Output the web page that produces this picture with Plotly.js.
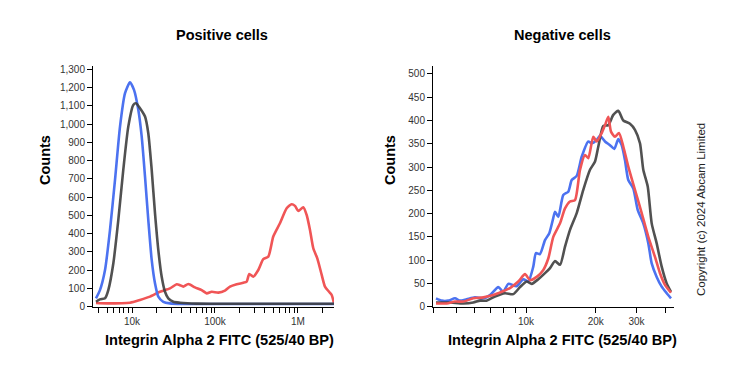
<!DOCTYPE html>
<html><head><meta charset="utf-8">
<script src="https://cdn.plot.ly/plotly-3.0.1.min.js"></script>
<style>html,body{margin:0;padding:0;background:#fff}#chart{width:739px;height:370px}</style>
</head><body><div id="chart"></div>
<script>
// ---- Positive cells (left panel) ----
const posBlueX = [3680,4110,4730,5430,6240,7170,8240,9460,10570,11910,13090,14350,15710,17270,18920,20740,23830,28690,40000,100000,1000000,2714000];
const posBlueY = [46,91,201,420,694,986,1169,1229,1187,1078,931,712,475,256,128,55,27,18,15,15,15,15];
const posBlackX = [3680,4110,4730,5180,5960,6840,7850,9020,10370,11170,12480,14350,15710,17270,18920,20740,22790,24980,27370,31460,37870,60000,300000,2714000];
const posBlackY = [27,40,46,91,238,475,749,986,1105,1114,1087,1041,950,749,512,311,164,82,46,27,22,17,16,16];
const posRedX = [3680,5000,9460,12480,16480,21730,28690,34590,37870,41500,47660,57390,69170,79460,91270,109600,131900,151600,182400,219300,240900,258900,289200,332400,381900,438800,503900,606500,730500,839100,919900,1009000,1159000,1273000,1395000,1529000,1709000,1931000,2115000,2363000,2548000,2714000];
const posRedY = [20,18,22,37,55,82,100,123,118,110,124,106,91,73,82,77,88,110,123,131,137,179,164,201,260,274,384,457,539,561,552,524,545,502,420,320,265,174,110,82,64,18];

// ---- Negative cells (right panel) ----
const negBlueX = [4086,4324,4618,4935,5187,5543,6021,6541,6991,7592,7978,8385,9116,9734,10230,10750,11040,11490,12080,12610,13050,13350,13790,14490,15230,15760,16560,17400,18580,19220,20200,20870,21940,23070,24070,25050,25900,26760,27660,29070,30370,32110,33760,34910,36690,38560,40530,42300];
const negBlueY = [18,13,13,18,13,16,20,18,25,42,32,49,44,59,54,86,115,113,143,158,186,204,193,240,247,272,281,322,355,351,358,367,355,347,339,360,347,315,272,254,208,179,136,93,64,43,29,18];
const negRedX = [4086,4545,4935,5360,5920,6541,7223,7852,8529,9262,9901,10410,11120,11880,12490,13120,14030,14740,15490,16280,17110,17980,18580,19530,20200,21230,21940,22670,23290,24230,25220,26320,27660,29560,31610,33760,36070,37910,39850,42300];
const negRedY = [7,7,11,11,18,20,25,32,40,54,70,57,64,79,104,150,179,211,226,229,294,326,319,365,355,373,390,408,376,365,373,344,301,251,201,150,107,72,47,30];
const negBlackX = [4086,4696,5360,5920,6329,6765,7347,8114,8813,9421,10070,10580,11300,12080,12700,13350,14030,14740,15490,16560,17680,18900,19870,20530,21570,22670,23830,25050,26320,28130,29560,31070,32110,33560,34910,36690,38560,40530,42300];
const negBlackY = [9,9,7,9,13,13,22,29,27,42,54,49,59,72,83,98,90,129,165,201,251,294,312,344,388,390,412,421,400,393,380,351,294,258,179,136,86,50,32];

const leftTickVals = [4000,5000,6000,7000,8000,9000,10000,20000,30000,40000,50000,60000,70000,80000,90000,100000,200000,300000,400000,500000,600000,700000,800000,900000,1000000,2000000];
const leftTickText = ['','','','','','','10k','','','','','','','','','100k','','','','','','','','','1M',''];
const rightTickVals = [4000,5000,6000,7000,8000,9000,10000,20000,30000,40000];
const rightTickText = ['','','','','','','10k','20k','30k',''];

const titles = ['Positive cells','Negative cells'];
const xTitle = 'Integrin Alpha 2 FITC (525/40 BP)';
const yTitle = 'Counts';
const copyright = 'Copyright (c) 2024 Abcam Limited';

const BLUE='#4c72f0', RED='#f05556', DARK='rgba(62,62,62,0.9)';
const FONT='Arial, "Liberation Sans", sans-serif';
function ln(x,y,c,xa,ya){return {x:x,y:y,xaxis:xa,yaxis:ya,type:'scatter',mode:'lines',line:{color:c,width:2.6,shape:'spline',smoothing:0.6},hoverinfo:'skip',showlegend:false};}

const data = [
  ln(posRedX,posRedY,RED,'x','y'),
  ln(posBlueX,posBlueY,BLUE,'x','y'),
  ln(posBlackX,posBlackY,DARK,'x','y'),
  ln(negBlueX,negBlueY,BLUE,'x2','y2'),
  ln(negBlackX,negBlackY,DARK,'x2','y2'),
  ln(negRedX,negRedY,RED,'x2','y2')
];
const W=739,H=370;
const axBase = {showgrid:false,zeroline:false,showline:true,linecolor:'#000',linewidth:1,ticks:'outside',ticklen:5,tickcolor:'#000',tickfont:{family:FONT,size:10,color:'#333'}};
function px(x){return x/W;} function py(y){return 1-y/H;}
function ann(text,x,y,size,angle,color){return {text:text,x:px(x),y:py(y),xref:'paper',yref:'paper',xanchor:'center',yanchor:'middle',showarrow:false,textangle:angle||0,font:{size:size,color:color||'#000',family:FONT}};}
const layout = {
  width:W,height:H,margin:{l:0,r:0,t:0,b:0},paper_bgcolor:'#fff',plot_bgcolor:'#fff',
  font:{family:FONT},
  xaxis:Object.assign({},axBase,{type:'log',domain:[px(93),px(334)],range:[3.53,6.434],tickmode:'array',tickvals:leftTickVals,ticktext:leftTickText,anchor:'y'}),
  yaxis:Object.assign({},axBase,{domain:[py(306.7),py(66)],range:[0,1318],tickmode:'linear',tick0:0,dtick:100,tickformat:',d',anchor:'x'}),
  xaxis2:Object.assign({},axBase,{type:'log',domain:[px(433),px(674)],range:[3.5983,4.6393],tickmode:'array',tickvals:rightTickVals,ticktext:rightTickText,anchor:'y2'}),
  yaxis2:Object.assign({},axBase,{domain:[py(306.7),py(66)],range:[0,517],tickmode:'linear',tick0:0,dtick:50,anchor:'x2'}),
  annotations:[
    ann('<b>'+titles[0]+'</b>',222,35,14.5),
    ann('<b>'+titles[1]+'</b>',562,35,14.5),
    ann('<b>'+xTitle+'</b>',220,340,14.6),
    ann('<b>'+xTitle+'</b>',562,340,14.6),
    ann('<b>'+yTitle+'</b>',45,160,14.5,-90),
    ann('<b>'+yTitle+'</b>',390,160,14.5,-90),
    ann(copyright,701,210,11.5,-90,'#222')
  ]
};
Plotly.newPlot('chart',data,layout,{staticPlot:true,displayModeBar:false});
</script></body></html>
